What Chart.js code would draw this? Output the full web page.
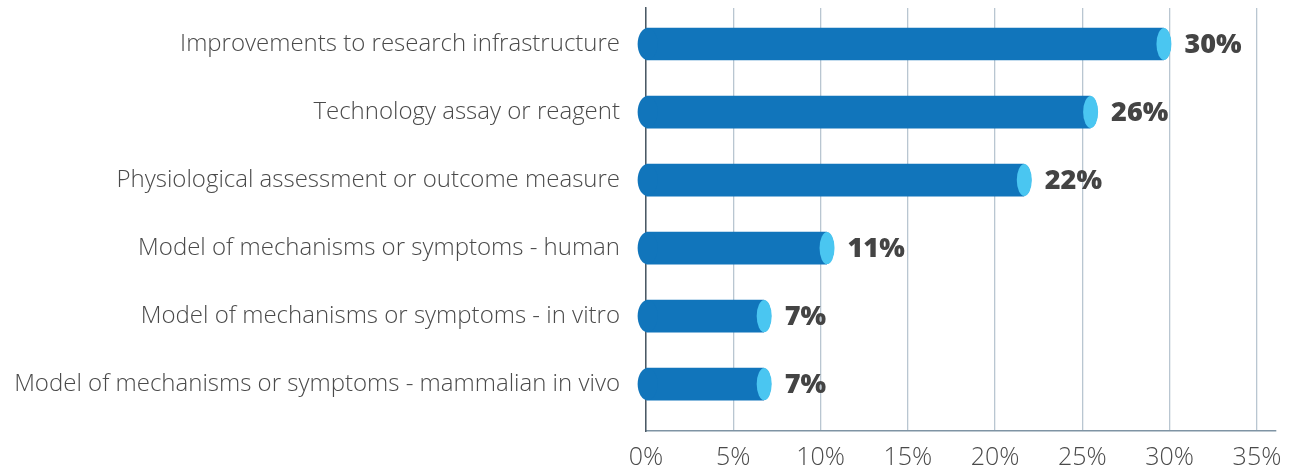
<!DOCTYPE html>
<html lang="en">
<head>
    <meta charset="UTF-8" />
    <title>Research outputs</title>
    <script src="https://cdn.jsdelivr.net/npm/chart.js"></script>
    <style>
        html, body { margin: 0; padding: 0; background: #ffffff; }
        .chart-box { position: relative; width: 1299px; height: 472px; }
    </style>
</head>
<body>
    <div class="chart-box">
        <canvas id="outputsChart"></canvas>
    </div>

    <script>
        // data
        const categories = [
            "Improvements to research infrastructure",
            "Technology assay or reagent",
            "Physiological assessment or outcome measure",
            "Model of mechanisms or symptoms - human",
            "Model of mechanisms or symptoms - in vitro",
            "Model of mechanisms or symptoms - mammalian in vivo"
        ];
        const shares = [30.1, 25.9, 22.1, 10.8, 7.2, 7.2];
        const xTicks = [0, 5, 10, 15, 20, 25, 30, 35];

        const barBlue = "#1175bb";
        const capBlue = "#4ac6f1";
        const labelFont = "'Open Sans', sans-serif";
        const capRx = 7.5;

        // cylinder look: clip the square bar ends, then add the caps and value labels
        const cylinderPlugin = {
            id: "cylinder",
            beforeDatasetsDraw(chart) {
                const ctx = chart.ctx;
                const meta = chart.getDatasetMeta(0);
                ctx.save();
                ctx.beginPath();
                meta.data.forEach((bar) => {
                    const h = bar.height / 2;
                    const cx = bar.x - capRx;
                    ctx.rect(bar.base - 20, bar.y - h - 1, cx - bar.base + 20, h * 2 + 2);
                    ctx.moveTo(cx + capRx - 0.5, bar.y);
                    ctx.ellipse(cx, bar.y, capRx - 0.5, h - 0.5, 0, 0, Math.PI * 2);
                });
                ctx.clip();
            },
            afterDatasetsDraw(chart) {
                const ctx = chart.ctx;
                ctx.restore();
                const meta = chart.getDatasetMeta(0);
                ctx.save();
                meta.data.forEach((bar, i) => {
                    const h = bar.height / 2;
                    // rounded back end
                    ctx.fillStyle = barBlue;
                    ctx.beginPath();
                    ctx.ellipse(bar.base + 1, bar.y, 10, h, 0, 0, Math.PI * 2);
                    ctx.fill();
                    // light front face
                    ctx.fillStyle = capBlue;
                    ctx.beginPath();
                    ctx.ellipse(bar.x - capRx, bar.y, capRx, h, 0, 0, Math.PI * 2);
                    ctx.fill();

                    ctx.fillStyle = "#444444";
                    ctx.font = "900 27px 'Noto Sans', sans-serif";
                    ctx.textAlign = "left";
                    ctx.textBaseline = "middle";
                    ctx.fillText(Math.round(shares[i]) + "%", bar.x + 13, bar.y + 1);
                });
                ctx.restore();
            }
        };

        const ctx = document.getElementById("outputsChart").getContext("2d");

        const outputsChart = new Chart(ctx, {
            type: "bar",
            data: {
                datasets: [
                    {
                        data: shares.map((v, i) => ({ x: v, y: i })),
                        backgroundColor: barBlue,
                        barThickness: 32,
                        borderSkipped: false,
                        borderWidth: 0
                    }
                ]
            },
            options: {
                indexAxis: "y",
                responsive: true,
                maintainAspectRatio: false,
                animation: false,
                layout: { padding: { top: 8, right: 23, bottom: 0, left: 0 } },
                plugins: {
                    legend: { display: false },
                    tooltip: { enabled: false }
                },
                scales: {
                    x: {
                        type: "linear",
                        bounds: "data",
                        offset: false,
                        min: 0,
                        max: 36.09,
                        afterFit: (s) => { s.height = 41; },
                        afterBuildTicks: (s) => { s.ticks = xTicks.map(v => ({ value: v })); },
                        ticks: {
                            includeBounds: false,
                            padding: 12,
                            color: "#4a4a4a",
                            font: { family: labelFont, size: 25, weight: 300 },
                            callback: (v) => v + "%"
                        },
                        grid: {
                            drawTicks: false,
                            color: "#b9c6d1",
                            lineWidth: 1.3
                        },
                        border: { color: "#7f94a4", width: 1.5 }
                    },
                    y: {
                        type: "linear",
                        bounds: "data",
                        offset: false,
                        reverse: true,
                        min: -0.53,
                        max: 5.69,
                        afterFit: (s) => { s.width = 646; s.paddingTop = 0; s.paddingBottom = 0; },
                        afterBuildTicks: (s) => { s.ticks = categories.map((c, i) => ({ value: i })); },
                        ticks: {
                            includeBounds: false,
                            padding: 26,
                            color: "#4a4a4a",
                            font: { family: labelFont, size: 24, weight: 300 },
                            callback: (v) => categories[v]
                        },
                        grid: { display: false, drawTicks: false, offset: false },
                        border: { color: "#4b5964", width: 1.5 }
                    }
                }
            },
            plugins: [cylinderPlugin]
        });
    </script>
</body>
</html>
